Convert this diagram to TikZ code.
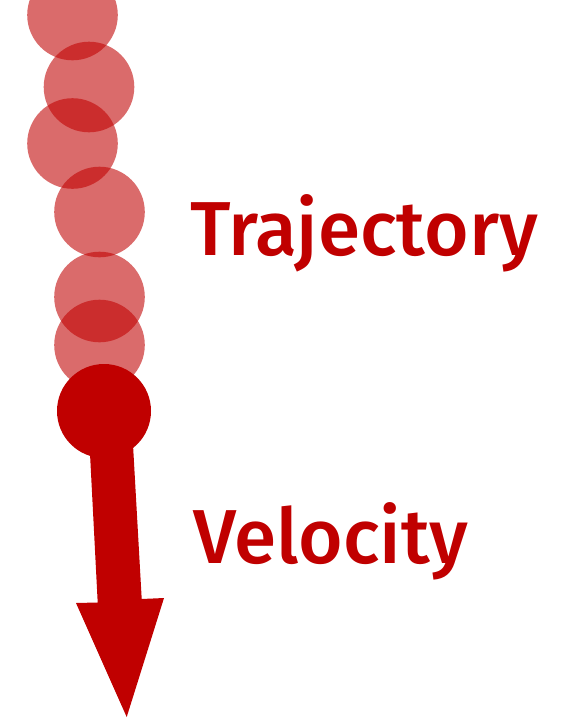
\documentclass[tikz,border=0pt]{standalone}
\usepackage{fontspec}
\setmainfont{Fira Sans Medium}
\definecolor{dkred}{HTML}{C00000}
\begin{document}
\begin{tikzpicture}[x=1pt,y=-1pt,
  ghost/.style={fill=dkred,fill opacity=0.58,draw=none},
  lbl/.style={text=dkred,inner sep=0pt,anchor=base west,font=\fontsize{76.5}{80}\selectfont}]
\useasboundingbox (0,0) rectangle (565,720);
\fill[ghost] (72.5,15) circle (45.3);
\fill[ghost] (89,87) circle (45.3);
\fill[ghost] (72.5,143.5) circle (45.3);
\fill[ghost] (99.5,212) circle (45.3);
\fill[ghost] (99.5,297) circle (45.3);
\fill[ghost] (99.5,345) circle (45.3);
\fill[dkred] (104,411) circle (47);
\fill[dkred] (87.8,411) -- (131.1,411) -- (141.7,599) -- (164,598) -- (126.7,717) -- (76,603) -- (97.7,602.5) -- cycle;
\node[lbl] (traj) at (190,255.7) {Trajectory};
\node[lbl] (vel) at (193,563.3) {Velocity};
\end{tikzpicture}
\end{document}
